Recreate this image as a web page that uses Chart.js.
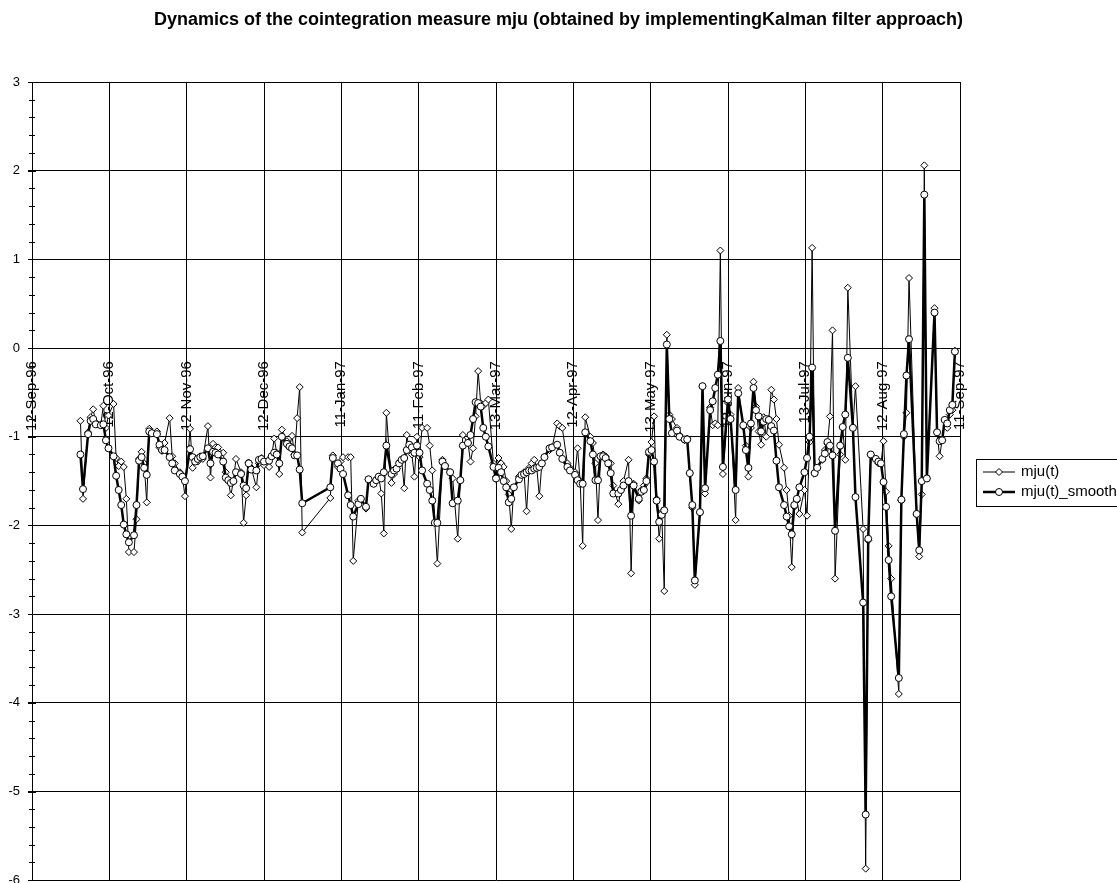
<!DOCTYPE html>
<html>
<head>
<meta charset="utf-8">
<script src="https://cdn.jsdelivr.net/npm/chart.js@4/dist/chart.umd.min.js"></script>
<style>
  html, body { margin: 0; background: #fff; overflow: hidden; }
  #wrap { width: 1117px; height: 883px; overflow: hidden; }
</style>
</head>
<body>
<div id="wrap"><canvas id="myChart" width="1117" height="896"></canvas></div>
<script>
// days counted from 12-Sep-96
var days = [19, 20, 22, 23, 24, 25, 27, 28, 29, 30, 32, 33, 34, 35, 36, 37, 38, 40, 41, 42,
  43, 44, 45, 46, 47, 49, 50, 51, 52, 54, 55, 56, 58, 59, 60, 62, 63, 64, 65, 66,
  67, 69, 70, 71, 72, 73, 75, 76, 77, 78, 79, 80, 82, 83, 84, 85, 86, 88, 89, 90,
  91, 93, 94, 95, 96, 97, 98, 100, 101, 102, 103, 104, 105, 106,
  117, 118, 120, 121, 122, 124, 125, 126, 128, 129, 131, 132, 134, 135, 136, 137, 138, 139, 141, 142,
  143, 144, 145, 146, 147, 148, 149, 150, 151, 152, 153, 155, 156, 157, 158, 159, 161, 162, 164, 165,
  167, 168, 169, 171, 172, 173, 174, 175, 176, 177, 178, 179, 181, 182, 183, 184, 185, 186, 187, 188,
  189, 191, 192, 193, 194, 195, 196, 197, 198, 199, 200, 201, 203, 204, 206, 207, 208, 210, 211, 213,
  214, 215, 216, 217, 219, 220, 221, 222, 223, 224, 225, 226, 227, 228, 230, 231, 232, 234, 235, 236,
  238, 239, 240, 241, 242, 243, 244, 245, 246, 247, 248, 249, 250, 251, 253, 254, 256, 257, 258, 259,
  260, 262, 263, 264, 266, 267, 268, 269, 270, 271, 273, 274, 276, 277, 279, 280, 281, 282, 283, 284,
  285, 286, 287, 288, 289, 290, 291, 292, 293, 295, 296, 297, 298, 299, 300, 301, 303, 304, 305, 306,
  307, 308, 310, 311, 312, 313, 314, 315, 317, 318, 319, 320, 322, 323, 326, 327, 328, 329, 331, 332,
  333, 334, 335, 336, 337, 340, 341, 342, 343, 344, 347, 348, 349, 350, 351, 354, 355, 356, 357, 358,
  359, 360, 361, 362];

var mju = [-0.82, -1.70, -0.95, -0.78, -0.69, -0.84, -0.86, -0.65, -0.90, -0.76, -0.63, -1.24, -1.33, -1.28, -1.34, -1.70, -2.30, -2.30, -1.93, -1.25,
  -1.17, -1.30, -1.74, -0.91, -0.96, -0.94, -1.12, -1.16, -1.07, -0.79, -1.22, -1.30, -1.40, -1.45, -1.67, -0.91, -1.35, -1.25, -1.28, -1.22,
  -1.25, -0.88, -1.46, -1.08, -1.12, -1.12, -1.18, -1.40, -1.50, -1.66, -1.50, -1.25, -1.40, -1.97, -1.66, -1.29, -1.35, -1.57, -1.30, -1.24,
  -1.32, -1.34, -1.22, -1.02, -1.18, -1.42, -0.92, -1.05, -1.12, -0.99, -1.20, -0.79, -0.44, -2.08,
  -1.69, -1.21, -1.34, -1.28, -1.23, -1.23, -1.23, -2.40, -1.72, -1.70, -1.81, -1.48, -1.53, -1.50, -1.45, -1.64, -2.09, -0.73, -1.52, -1.42,
  -1.36, -1.30, -1.26, -1.58, -0.98, -1.15, -1.20, -1.45, -1.00, -1.23, -0.90, -0.90, -1.10, -1.38, -1.97, -2.43, -1.26, -1.32, -1.40, -1.47,
  -2.15, -1.49, -0.98, -1.07, -1.28, -1.13, -0.77, -0.26, -0.62, -0.65, -0.62, -0.58, -1.30, -1.45, -1.24, -1.30, -1.34, -1.50, -1.65, -2.04,
  -1.57, -1.45, -1.43, -1.40, -1.84, -1.35, -1.30, -1.26, -1.35, -1.67, -1.30, -1.23, -1.15, -1.12, -0.85, -0.88, -0.90, -1.30, -1.35, -1.40,
  -1.13, -1.50, -2.23, -0.78, -1.00, -1.07, -1.30, -1.94, -1.22, -1.20, -1.22, -1.28, -1.30, -1.55, -1.76, -1.60, -1.50, -1.26, -2.54, -1.53,
  -1.72, -1.60, -1.55, -1.47, -1.20, -1.06, -0.77, -1.70, -2.15, -1.85, -2.74, 0.15, -0.75, -0.80, -0.90, -0.98, -1.04, -1.02, -1.41, -1.80,
  -2.67, -1.86, -0.43, -1.64, -0.67, -0.87, -0.85, -0.87, 1.10, -1.42, -0.62, -0.75, -1.94, -0.45, -0.89, -1.10, -1.45, -0.90, -0.38, -0.66,
  -0.94, -1.09, -0.78, -1.00, -0.80, -0.47, -0.58, -0.80, -1.09, -1.35, -1.60, -1.89, -2.47, -1.79, -1.72, -1.87, -1.60, -1.89, -1.06, 1.13,
  -1.40, -1.35, -1.26, -1.15, -1.08, -0.77, 0.20, -2.60, -1.20, -0.89, -1.26, 0.68, -0.89, -0.43, -2.04, -5.87, -2.17, -1.20, -1.25, -1.30,
  -1.30, -1.05, -1.62, -2.23, -2.60, -3.90, -1.72, -1.00, -0.73, 0.79, -1.88, -2.35, -1.65, 2.06, -1.47, 0.45, -0.95, -1.22, -1.04, -0.81,
  -0.90, -0.75, -0.70, -0.03];

var mjuSmooth = [-1.20, -1.59, -0.97, -0.82, -0.80, -0.86, -0.87, -0.86, -1.04, -1.13, -1.22, -1.44, -1.60, -1.77, -1.99, -2.10, -2.19, -2.11, -1.77, -1.27,
  -1.23, -1.35, -1.43, -0.94, -0.96, -0.97, -1.09, -1.15, -1.15, -1.23, -1.30, -1.38, -1.42, -1.45, -1.50, -1.14, -1.23, -1.28, -1.25, -1.23,
  -1.22, -1.13, -1.30, -1.17, -1.18, -1.20, -1.28, -1.46, -1.49, -1.52, -1.50, -1.40, -1.42, -1.55, -1.58, -1.30, -1.37, -1.38, -1.26, -1.25,
  -1.28, -1.27, -1.22, -1.18, -1.20, -1.30, -1.00, -1.08, -1.11, -1.13, -1.21, -1.21, -1.37, -1.75,
  -1.57, -1.24, -1.30, -1.36, -1.42, -1.66, -1.77, -1.90, -1.76, -1.70, -1.79, -1.48, -1.53, -1.49, -1.45, -1.47, -1.40, -1.10, -1.42, -1.38,
  -1.36, -1.30, -1.26, -1.24, -1.15, -1.09, -1.12, -1.18, -1.10, -1.18, -1.38, -1.53, -1.60, -1.72, -1.97, -1.97, -1.28, -1.33, -1.40, -1.75,
  -1.72, -1.49, -1.10, -1.07, -0.98, -0.80, -0.61, -0.62, -0.66, -0.90, -1.00, -1.11, -1.34, -1.47, -1.35, -1.40, -1.50, -1.57, -1.74, -1.70,
  -1.57, -1.48, -1.43, -1.42, -1.40, -1.38, -1.38, -1.36, -1.35, -1.34, -1.30, -1.23, -1.13, -1.12, -1.09, -1.18, -1.25, -1.34, -1.38, -1.43,
  -1.49, -1.53, -1.53, -0.95, -1.05, -1.20, -1.49, -1.49, -1.22, -1.22, -1.24, -1.30, -1.41, -1.64, -1.64, -1.60, -1.55, -1.50, -1.89, -1.55,
  -1.70, -1.62, -1.60, -1.50, -1.17, -1.15, -1.28, -1.72, -1.96, -1.88, -1.83, 0.04, -0.80, -0.96, -0.93, -1.00, -1.03, -1.03, -1.41, -1.77,
  -2.62, -1.85, -0.43, -1.58, -0.70, -0.60, -0.45, -0.30, 0.08, -1.34, -0.58, -0.80, -1.60, -0.51, -0.87, -1.15, -1.35, -0.85, -0.45, -0.70,
  -0.77, -0.94, -0.83, -0.80, -0.81, -0.88, -0.93, -1.27, -1.57, -1.77, -1.90, -2.01, -2.10, -1.77, -1.70, -1.57, -1.40, -1.24, -1.00, -0.22,
  -1.41, -1.35, -1.25, -1.19, -1.06, -1.10, -1.21, -2.06, -1.10, -0.89, -0.75, -0.11, -0.90, -1.68, -2.87, -5.26, -2.15, -1.20, -1.25, -1.28,
  -1.30, -1.51, -1.79, -2.39, -2.80, -3.72, -1.71, -0.97, -0.31, 0.10, -1.87, -2.28, -1.50, 1.73, -1.47, 0.40, -0.95, -1.05, -1.04, -0.81,
  -0.85, -0.70, -0.64, -0.04];

var tickLabels = ['12-Sep-96', '12-Oct-96', '12-Nov-96', '12-Dec-96', '11-Jan-97', '11-Feb-97', '13-Mar-97',
  '12-Apr-97', '13-May-97', '12-Jun-97', '13-Jul-97', '12-Aug-97', '11-Sep-97'];

var chartTitle = 'Dynamics of the cointegration measure mju (obtained by implementingKalman filter approach)';
var dayMax = 364;
var yMin = -6, yMax = 3;
var fontFam = '"Liberation Sans", Arial, sans-serif';

function toPoints(vals) {
  return vals.map(function (v, i) { return { x: days[i], y: v }; });
}

// title centred on the whole picture, not on the plot
var pageTitle = {
  id: 'pageTitle',
  afterDraw: function (chart) {
    var ctx = chart.ctx;
    ctx.save();
    ctx.fillStyle = '#000';
    ctx.font = 'bold 18px ' + fontFam;
    ctx.textAlign = 'center';
    ctx.textBaseline = 'middle';
    ctx.fillText(chartTitle, chart.width / 2, 20);
    ctx.restore();
  }
};

// small ticks on the value axis, every 0.2
var minorTicks = {
  id: 'minorTicks',
  afterDraw: function (chart) {
    var ys = chart.scales.y, ctx = chart.ctx, left = chart.chartArea.left;
    ctx.save();
    ctx.strokeStyle = '#000';
    ctx.lineWidth = 1;
    ctx.beginPath();
    for (var k = 0; k <= (yMax - yMin) * 5; k++) {
      var py = Math.round(ys.getPixelForValue(yMin + k * 0.2)) + 0.5;
      var len = (k % 5 === 0) ? 4 : 3;
      ctx.moveTo(left - len, py);
      ctx.lineTo(left + len, py);
    }
    ctx.stroke();
    ctx.restore();
  }
};

// Excel style legend box at the right
var boxLegend = {
  id: 'boxLegend',
  afterDraw: function (chart) {
    var ctx = chart.ctx, x0 = 976, y0 = 459;
    ctx.save();
    ctx.strokeStyle = '#000';
    ctx.lineWidth = 1;
    ctx.strokeRect(x0 + 0.5, y0 + 0.5, 160, 47);
    chart.data.datasets.forEach(function (ds, i) {
      var cy = y0 + 13 + i * 20;
      ctx.strokeStyle = '#000';
      ctx.lineWidth = ds.borderWidth;
      ctx.beginPath();
      ctx.moveTo(x0 + 7, cy);
      ctx.lineTo(x0 + 39, cy);
      ctx.stroke();
      var cx = x0 + 23, r = ds.pointRadius;
      ctx.lineWidth = 1;
      ctx.fillStyle = '#fff';
      ctx.beginPath();
      if (ds.pointStyle === 'rectRot') {
        ctx.moveTo(cx, cy - r); ctx.lineTo(cx + r, cy); ctx.lineTo(cx, cy + r); ctx.lineTo(cx - r, cy);
        ctx.closePath();
      } else {
        ctx.arc(cx, cy, r, 0, Math.PI * 2);
      }
      ctx.fill();
      ctx.stroke();
      ctx.fillStyle = '#000';
      ctx.font = '15px ' + fontFam;
      ctx.textBaseline = 'middle';
      ctx.fillText(ds.label, x0 + 45, cy);
    });
    ctx.restore();
  }
};

var ctx = document.getElementById('myChart').getContext('2d');
var chart = new Chart(ctx, {
  type: 'line',
  data: {
    datasets: [{
      label: 'mju(t)',
      data: toPoints(mju),
      borderColor: '#000',
      borderWidth: 1,
      pointStyle: 'rectRot',
      pointRadius: 3.5,
      pointBackgroundColor: '#fff',
      pointBorderColor: '#000',
      pointBorderWidth: 1,
      order: 1
    },
    {
      label: 'mju(t)_smooth',
      data: toPoints(mjuSmooth),
      borderColor: '#000',
      borderWidth: 2.5,
      pointStyle: 'circle',
      pointRadius: 3.5,
      pointBackgroundColor: '#fff',
      pointBorderColor: '#000',
      pointBorderWidth: 1,
      order: 0
    }]
  },
  options: {
    responsive: false,
    animation: false,
    layout: { padding: { left: 0, right: 157, top: 82, bottom: 5 } },
    plugins: {
      legend: { display: false },
      tooltip: { enabled: false },
      title: { display: false }
    },
    scales: {
      x: {
        type: 'linear',
        min: 0,
        max: dayMax,
        position: { y: 0 },
        afterBuildTicks: function (scale) {
          scale.ticks = tickLabels.map(function (t, i) { return { value: i * dayMax / (tickLabels.length - 1) }; });
        },
        ticks: {
          autoSkip: false,
          minRotation: 90,
          maxRotation: 90,
          padding: 13,
          color: '#000',
          font: { family: fontFam, size: 15 },
          callback: function (v, i) { return tickLabels[i]; }
        },
        grid: { color: '#000', lineWidth: 1, drawTicks: false },
        border: { color: '#000' }
      },
      y: {
        min: yMin,
        max: yMax,
        afterFit: function (scale) { scale.width = 32; },
        ticks: {
          stepSize: 1,
          padding: 8,
          color: '#000',
          font: { family: fontFam, size: 13 }
        },
        grid: { color: '#000', lineWidth: 1, tickLength: 4 },
        border: { color: '#000' }
      }
    }
  },
  plugins: [pageTitle, minorTicks, boxLegend]
});
</script>
</body>
</html>
